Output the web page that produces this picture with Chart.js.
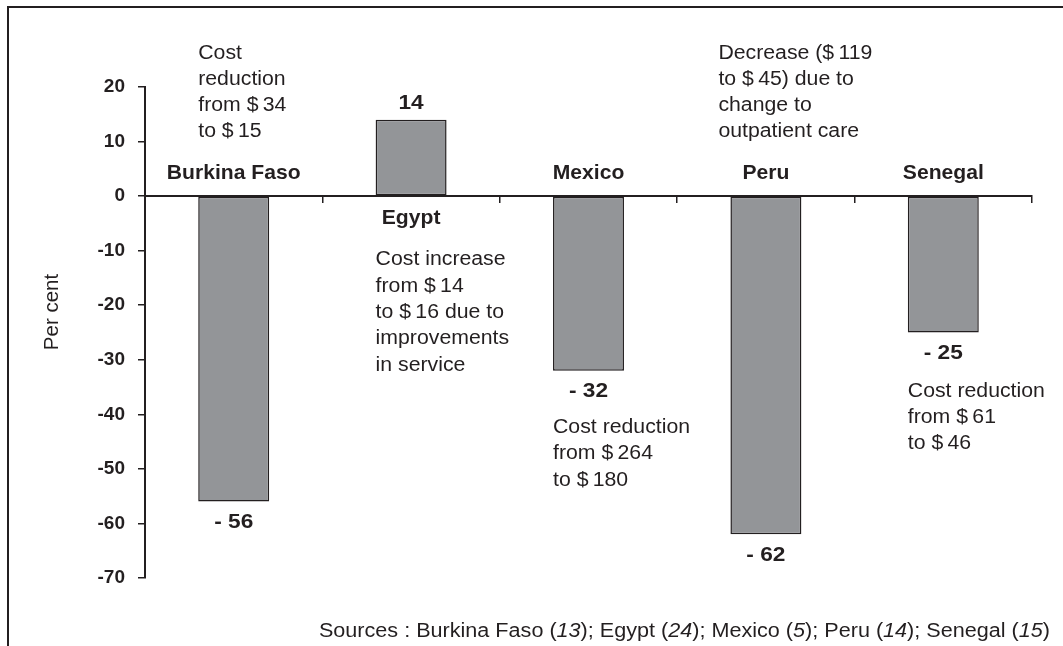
<!DOCTYPE html>
<html>
<head>
<meta charset="utf-8">
<script src="https://cdn.jsdelivr.net/npm/chart.js@4.4.1/dist/chart.umd.min.js"></script>
<style>
  html, body { margin: 0; padding: 0; background: #ffffff; }
  #wrap { width: 1063px; height: 646px; }
</style>
</head>
<body>
<div id="wrap"><canvas id="c" width="1063" height="646"></canvas></div>
<script>
// ---- data ----
const categories = ['Burkina Faso', 'Egypt', 'Mexico', 'Peru', 'Senegal'];
const changePct = [-56, 14, -32, -62, -25];
const valueLabels = ['- 56', '14', '- 32', '- 62', '- 25'];
const notes = [
  ['Cost', 'reduction', 'from $\u200934', 'to $\u200915'],
  ['Cost increase', 'from $\u200914', 'to $\u200916 due to', 'improvements', 'in service'],
  ['Cost reduction', 'from $\u2009264', 'to $\u2009180'],
  ['Decrease ($\u2009119', 'to $\u200945) due to', 'change to', 'outpatient care'],
  ['Cost reduction', 'from $\u200961', 'to $\u200946']
];
const yMin = -70, yMax = 20, yStep = 10;
const yTitle = 'Per cent';
const sourceParts = [
  ['Sources : Burkina Faso (', false], ['13', true], ['); Egypt (', false], ['24', true],
  ['); Mexico (', false], ['5', true], ['); Peru (', false], ['14', true],
  ['); Senegal (', false], ['15', true], [')', false]
];

// ---- style / placement (not data) ----
const INK = '#231f20';
const BAR = '#939598';
const FONT = "'Liberation Sans', Arial, Helvetica, sans-serif";
const noteDx = [0, 0, 0, -12, 0];           // offset from bar left edge
const noteMode = ['above', 'belowLabel', 'belowValue', 'above', 'belowValue'];
const noteGap = [64, 42, 36, 64, 38];
const LINE_H = 26.3;

function drawText(ctx, text, x, y, align, sx) {
  ctx.save();
  ctx.translate(x, y);
  ctx.scale(sx, 1);
  ctx.textAlign = align;
  ctx.fillText(text, 0, 0);
  ctx.restore();
}

const annotate = {
  id: 'annotate',
  beforeDraw(chart) {
    const ctx = chart.ctx;
    ctx.save();
    ctx.fillStyle = '#ffffff';
    ctx.fillRect(0, 0, chart.width, chart.height);
    ctx.strokeStyle = INK;
    ctx.lineWidth = 2;
    ctx.beginPath();
    ctx.moveTo(8, chart.height);
    ctx.lineTo(8, 7);
    ctx.lineTo(chart.width, 7);
    ctx.stroke();
    ctx.restore();
  },
  afterDraw(chart) {
    const ctx = chart.ctx;
    const xs = chart.scales.x, ys = chart.scales.y;
    const meta = chart.getDatasetMeta(0);
    const zeroY = ys.getPixelForValue(0);
    ctx.save();
    ctx.fillStyle = INK;
    ctx.textBaseline = 'middle';
    categories.forEach((cat, i) => {
      const bar = meta.data[i];
      const cx = xs.getPixelForValue(i);
      const v = changePct[i];
      const barEnd = ys.getPixelForValue(v);
      const barLeft = bar.x - bar.width / 2;
      // category label
      ctx.font = 'bold 20.5px ' + FONT;
      const catY = v < 0 ? zeroY - 23 : zeroY + 22;
      drawText(ctx, cat, cx, catY, 'center', 1.03);
      // value label
      ctx.font = 'bold 21px ' + FONT;
      const valY = v < 0 ? barEnd + 21 : barEnd - 17;
      drawText(ctx, valueLabels[i], cx, valY, 'center', 1.08);
      // note
      ctx.font = '19.5px ' + FONT;
      const lines = notes[i];
      let firstY;
      if (noteMode[i] === 'above') {
        firstY = zeroY - noteGap[i] - (lines.length - 1) * LINE_H;
      } else if (noteMode[i] === 'belowLabel') {
        firstY = catY + noteGap[i];
      } else {
        firstY = valY + noteGap[i];
      }
      lines.forEach((t, k) => drawText(ctx, t, barLeft + noteDx[i], firstY + k * LINE_H, 'left', 1.09));
    });
    // y title
    ctx.save();
    ctx.translate(52, 312);
    ctx.rotate(-Math.PI / 2);
    ctx.font = '20.5px ' + FONT;
    ctx.textAlign = 'center';
    ctx.fillText(yTitle, 0, 0);
    ctx.restore();
    // sources
    ctx.textBaseline = 'alphabetic';
    const SX = 1.08;
    const fontFor = it => (it ? 'italic ' : '') + '20px ' + FONT;
    let total = 0;
    sourceParts.forEach(([t, it]) => { ctx.font = fontFor(it); total += ctx.measureText(t).width * SX; });
    let x = 1050 - total;
    sourceParts.forEach(([t, it]) => {
      ctx.font = fontFor(it);
      drawText(ctx, t, x, 637, 'left', SX);
      x += ctx.measureText(t).width * SX;
    });
    ctx.restore();
  }
};

new Chart(document.getElementById('c'), {
  type: 'bar',
  data: {
    labels: categories,
    datasets: [{
      data: changePct,
      backgroundColor: BAR,
      borderColor: INK,
      borderWidth: 1.5,
      borderSkipped: false,
      categoryPercentage: 1.0,
      barPercentage: 0.4
    }]
  },
  options: {
    responsive: false,
    animation: false,
    devicePixelRatio: 1,
    layout: { padding: { left: 50, right: 31, top: 87, bottom: 68 } },
    plugins: { legend: { display: false }, tooltip: { enabled: false }, title: { display: false } },
    scales: {
      x: {
        position: { y: 0 },
        offset: true,
        grid: { display: true, drawOnChartArea: false, drawTicks: true, tickLength: 6, color: INK, lineWidth: 1.5, offset: true },
        border: { display: true, color: INK, width: 2 },
        ticks: { display: false }
      },
      y: {
        min: yMin, max: yMax,
        afterFit(scale) { scale.width = 95; },
        grid: { display: true, drawOnChartArea: false, drawTicks: true, tickLength: 7, color: INK, lineWidth: 1.5 },
        border: { display: true, color: INK, width: 2 },
        ticks: {
          stepSize: yStep,
          padding: 13,
          color: INK,
          font: { family: FONT, size: 19, weight: 'bold' }
        }
      }
    }
  },
  plugins: [annotate]
});
</script>
</body>
</html>
